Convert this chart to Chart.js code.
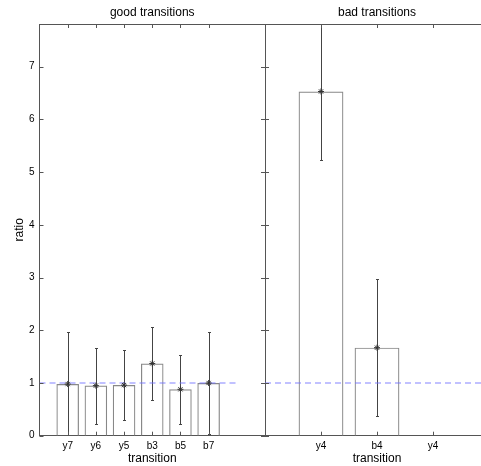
<!DOCTYPE html>
<html>
<head>
<meta charset="utf-8">
<script src="https://cdn.jsdelivr.net/npm/chart.js@4"></script>
<style>
html, body { margin: 0; padding: 0; background: #fff; overflow: hidden; width: 481px; height: 466px; }
#good { position: absolute; left: 0; top: 0; }
#bad { position: absolute; left: 260px; top: 0; }
</style>
</head>
<body>
<canvas id="good" width="266" height="466"></canvas>
<canvas id="bad" width="229" height="466"></canvas>
<script>
// Mean ratio per transition with its error half-width
const goodLabels = ['y7', 'y6', 'y5', 'b3', 'b5', 'b7'];
const goodRatio = [0.98, 0.95, 0.96, 1.37, 0.88, 1.00];
const goodErr = [0.99, 0.72, 0.66, 0.69, 0.65, 0.96];

const badLabels = ['y4', 'b4', 'y4'];
const badRatio = [6.53, 1.67, null];
const badErr = [1.30, 1.30, null];

// Reference level (ratio of 1) and the shared ratio axis
const refRatio = 1;
const yTicks = [0, 1, 2, 3, 4, 5, 6, 7];
const yMax = 7.81;

const FONT = "'Liberation Sans', Arial, Helvetica, sans-serif";
const FRAME = '#555';
const TEXT = '#000';

// Tick marks drawn inside the plot frame
const frameTicks = {
  id: 'frameTicks',
  afterDraw(chart, args, opts) {
    const { ctx, chartArea: a, scales } = chart;
    ctx.save();
    ctx.strokeStyle = FRAME;
    ctx.lineWidth = 1;
    ctx.beginPath();
    scales.y.ticks.forEach(t => {
      const py = Math.round(scales.y.getPixelForValue(t.value)) + 0.5;
      ctx.moveTo(a.left, py); ctx.lineTo(a.left + 4, py);
      if (opts.rightTicks) { ctx.moveTo(a.right, py); ctx.lineTo(a.right - 4, py); }
    });
    scales.x.ticks.forEach(t => {
      const px = Math.round(scales.x.getPixelForValue(t.value)) + 0.5;
      ctx.moveTo(px, a.top); ctx.lineTo(px, a.top + 4);
      ctx.moveTo(px, a.bottom); ctx.lineTo(px, a.bottom - 4);
    });
    ctx.stroke();
    ctx.restore();
  }
};

// Vertical error bars (value ± error) with small caps
function errorBars(ratio, err) {
  return {
    id: 'errorBars',
    beforeDatasetsDraw(chart) {
      const { ctx, chartArea: a, scales } = chart;
      ctx.save();
      ctx.beginPath();
      ctx.rect(a.left, a.top, a.right - a.left, a.bottom - a.top);
      ctx.clip();
      ctx.strokeStyle = '#444';
      ctx.lineWidth = 1;
      ctx.beginPath();
      ratio.forEach((v, i) => {
        if (v === null) return;
        const px = Math.round(scales.x.getPixelForValue(i + 1)) + 0.5;
        const hi = Math.round(scales.y.getPixelForValue(v + err[i])) + 0.5;
        const lo = Math.round(scales.y.getPixelForValue(v - err[i])) + 0.5;
        ctx.moveTo(px, hi); ctx.lineTo(px, lo);
        ctx.moveTo(px - 1.5, hi); ctx.lineTo(px + 1.5, hi);
        ctx.moveTo(px - 1.5, lo); ctx.lineTo(px + 1.5, lo);
      });
      ctx.stroke();
      ctx.restore();
    }
  };
}

function makePanel(id, cfg) {
  const points = cfg.ratio
    .map((v, i) => (v === null ? null : { x: i + 1, y: v }))
    .filter(p => p !== null);

  const tickFont = { family: FONT, size: 10 };
  const titleFont = { family: FONT, size: 12 };

  const scales = {
    x: {
      type: 'linear', position: 'bottom', min: 0, max: cfg.xMax, offset: false,
      grid: { display: false, drawTicks: false },
      border: { display: true, color: FRAME, width: 1 },
      afterBuildTicks: s => { s.ticks = cfg.labels.map((_, i) => ({ value: i + 1 })); },
      ticks: {
        autoSkip: false, maxRotation: 0, padding: 5, color: TEXT, font: tickFont,
        callback: v => cfg.labels[v - 1] ?? ''
      },
      title: {
        display: true, text: 'transition', color: TEXT,
        font: titleFont, padding: { top: 0, bottom: 0 }
      },
      afterFit: s => { s.height = 30.3; }
    },
    xTop: {
      type: 'linear', position: 'top', min: 0, max: cfg.xMax,
      grid: { display: false, drawTicks: false },
      border: { display: true, color: FRAME, width: 1 },
      ticks: { display: false },
      title: {
        display: true, text: cfg.title, color: TEXT,
        font: titleFont, padding: { top: 5, bottom: 0 }
      },
      afterFit: s => { s.height = 24; }
    },
    y: {
      type: 'linear', position: 'left', min: 0, max: yMax,
      grid: { display: false, drawTicks: false },
      border: { display: true, color: FRAME, width: 1 },
      afterBuildTicks: s => { s.ticks = yTicks.map(v => ({ value: v })); },
      ticks: { display: cfg.showY, padding: 5, color: TEXT, font: tickFont },
      title: {
        display: cfg.showY, text: 'ratio', color: TEXT,
        font: titleFont, padding: { top: 12, bottom: 0 }
      },
      afterFit: s => { s.width = cfg.leftWidth; }
    }
  };
  if (cfg.rightFrame) {
    scales.yRight = {
      type: 'linear', position: 'right', min: 0, max: yMax,
      grid: { display: false, drawTicks: false },
      border: { display: true, color: FRAME, width: 1 },
      ticks: { display: false },
      afterFit: s => { s.width = 1; }
    };
  }

  return new Chart(document.getElementById(id), {
    type: 'bar',
    data: {
      datasets: [
        {
          type: 'line', data: points, showLine: false,
          pointStyle: 'star', pointRadius: 3, borderColor: '#333',
          pointBorderWidth: 1, backgroundColor: '#333'
        },
        {
          type: 'line',
          data: [{ x: 0, y: refRatio }, { x: cfg.refEnd, y: refRatio }],
          borderColor: 'rgba(110,110,255,0.85)', borderWidth: 1.2,
          borderDash: [6, 4], pointRadius: 0, fill: false
        },
        {
          type: 'bar', data: points,
          backgroundColor: 'rgba(255,255,255,0)', borderColor: '#888',
          borderWidth: 1.2, barPercentage: 0.8, categoryPercentage: 1
        }
      ]
    },
    options: {
      responsive: false, animation: false, devicePixelRatio: 1,
      layout: { padding: 0, autoPadding: false },
      scales,
      plugins: {
        legend: { display: false }, tooltip: { enabled: false },
        frameTicks: { rightTicks: cfg.rightFrame }
      }
    },
    plugins: [frameTicks, errorBars(cfg.ratio, cfg.err)]
  });
}

makePanel('good', {
  labels: goodLabels, ratio: goodRatio, err: goodErr,
  xMax: 8, refEnd: 7, title: 'good transitions',
  showY: true, leftWidth: 39.5, rightFrame: true
});

makePanel('bad', {
  labels: badLabels, ratio: badRatio, err: badErr,
  xMax: 4, refEnd: 4, title: 'bad transitions',
  showY: false, leftWidth: 5, rightFrame: false
});
</script>
</body>
</html>
